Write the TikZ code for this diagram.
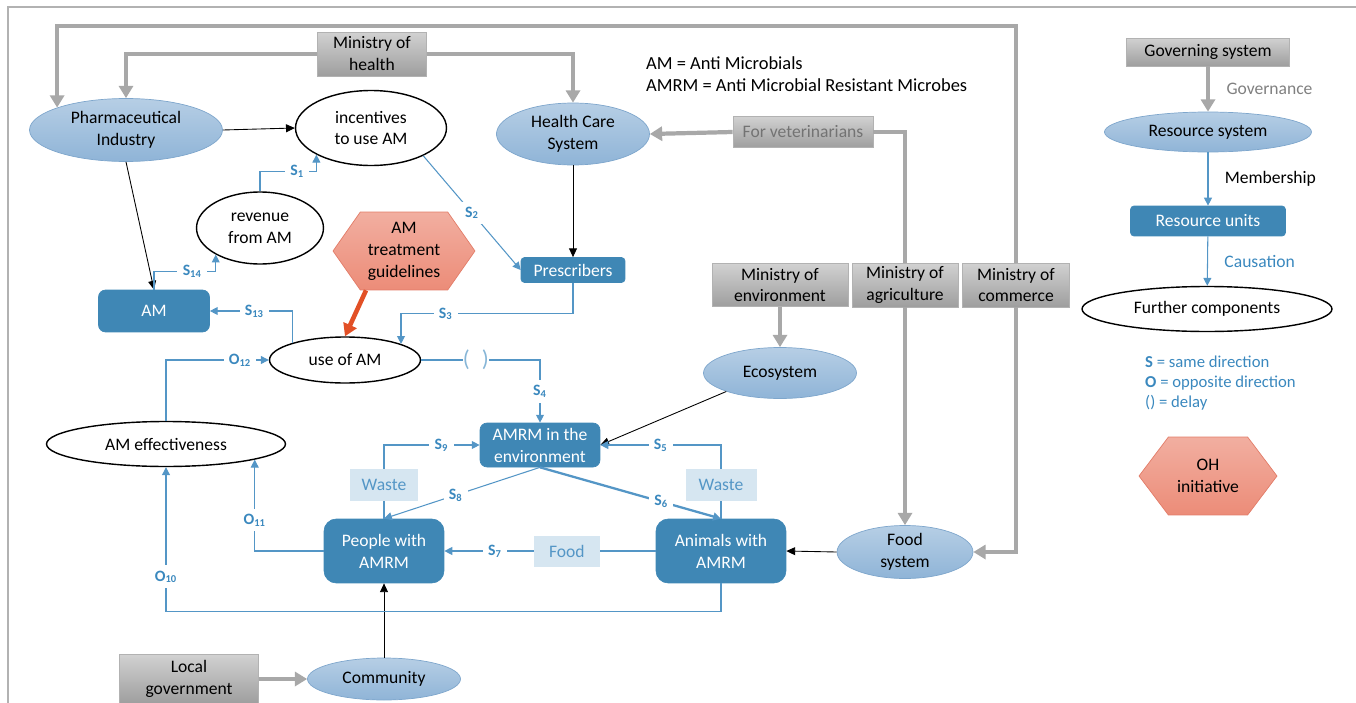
\documentclass[tikz,border=0pt]{standalone}
\usepackage{fontspec}
\setmainfont{Carlito}
\usetikzlibrary{arrows.meta,shapes.geometric,shapes.symbols}

\definecolor{boxblue}{RGB}{63,135,181}
\definecolor{ellblue}{RGB}{143,180,215}
\definecolor{ellline}{RGB}{126,166,204}
\definecolor{fbblue}{RGB}{84,150,198}
\definecolor{lblblue}{RGB}{58,136,190}
\definecolor{paleblue}{RGB}{214,230,241}
\definecolor{hexfill}{RGB}{236,140,120}
\definecolor{hexline}{RGB}{226,124,104}
\definecolor{guidered}{RGB}{226,80,38}
\definecolor{govgray}{RGB}{168,168,168}

\begin{document}
\begin{tikzpicture}[x=0.02cm,y=-0.02cm,font=\fontsize{10}{12.5}\selectfont,
  ell/.style={ellipse,draw=ellline,top color=ellblue!65,bottom color=ellblue,inner sep=0pt,align=center},
  oval/.style={ellipse,draw=black,thick,fill=white,inner sep=0pt,align=center},
  unit/.style={rectangle,rounded corners=4pt,fill=boxblue,draw=boxblue,text=white,inner sep=0pt,align=center},
  gov/.style={rectangle,draw=black!30,top color=black!18,bottom color=black!38,inner sep=0pt,align=center},
  hexa/.style={signal,signal to=east and west,signal pointer angle=110,draw=hexline,top color=hexfill!70,bottom color=hexfill,inner sep=0pt,align=center},
  flow/.style={rectangle,fill=paleblue,text=fbblue,inner sep=0pt},
  govline/.style={govgray,line width=2.4pt,-{Triangle[length=7pt,width=8pt]}},
  fb/.style={fbblue,line width=0.6pt,-{Triangle[length=4.5pt,width=4.5pt]}},
  cause/.style={black,line width=0.5pt,-{Triangle[length=5pt,width=4.5pt]}},
  lbl/.style={fill=white,text=lblblue,font=\fontsize{9}{10}\selectfont\bfseries,inner sep=3pt},
  delay/.style={fill=white,text=fbblue!70,inner sep=0pt,font=\fontsize{13}{13}\selectfont}]
  \useasboundingbox (0,0) rectangle (1356,703);
  % frame
  \draw[black!30,line width=0.8pt] (8,703) -- (8,7) -- (1356,7);

  % ministries
  \node[gov,minimum width=2.18cm,minimum height=0.88cm] (mhealth) at (372,54) {Ministry of\\health};
  \node[gov,minimum width=2.8cm,minimum height=0.62cm,text=black!55] (mvet) at (803,132) {For veterinarians};
  \node[gov,minimum width=2.72cm,minimum height=0.86cm] (menv) at (780,285) {Ministry of\\environment};
  \node[gov,minimum width=2.12cm,minimum height=0.88cm] (magri) at (905,285) {Ministry of\\agriculture};
  \node[gov,minimum width=2.14cm,minimum height=0.88cm] (mcom) at (1016,285) {Ministry of\\commerce};
  \node[gov,minimum width=2.78cm,minimum height=0.98cm] (lgov) at (189,679) {Local\\government};

  % resource systems
  \node[ell,minimum width=3.86cm,minimum height=1.26cm] (pharma) at (126,130) {Pharmaceutical\\Industry};
  \node[ell,minimum width=3.06cm,minimum height=1.24cm] (hcs) at (573,134) {Health Care\\System};
  \node[ell,minimum width=3.06cm,minimum height=1.02cm] (eco) at (780,373) {Ecosystem};
  \node[ell,minimum width=2.72cm,minimum height=1.06cm] (food) at (905,552) {Food\\system};
  \node[ell,minimum width=3.06cm,minimum height=0.84cm] (comm) at (384,679) {Community};

  % further components
  \node[oval,minimum width=3.02cm,minimum height=1.5cm] (incent) at (371,128) {incentives\\to use AM};
  \node[oval,minimum width=2.54cm,minimum height=1.44cm] (rev) at (260,228) {revenue\\from AM};
  \node[oval,minimum width=3.02cm,minimum height=0.92cm] (use) at (345,360) {use of AM};
  \node[oval,minimum width=4.78cm,minimum height=0.9cm] (eff) at (166,444) {AM effectiveness};

  % resource units
  \node[unit,minimum width=2.22cm,minimum height=0.84cm] (am) at (154,311) {AM};
  \node[unit,minimum width=2.08cm,minimum height=0.5cm,rounded corners=2pt] (presc) at (573,270) {Prescribers};
  \node[unit,minimum width=2.4cm,minimum height=0.88cm] (amrm) at (540,445) {AMRM in the\\environment};
  \node[unit,minimum width=2.4cm,minimum height=1.28cm,rounded corners=7pt] (ppl) at (384,551) {People with\\AMRM};
  \node[unit,minimum width=2.6cm,minimum height=1.28cm,rounded corners=7pt] (anim) at (721,551) {Animals with\\AMRM};

  % OH initiative
  \node[hexa,minimum width=2.84cm,minimum height=1.56cm] (guide) at (404,251) {AM\\treatment\\guidelines};

  % abbreviations
  \node[anchor=west,align=left,font=\fontsize{10.5}{12.5}\selectfont] (abbr) at (640,74) {AM = Anti Microbials\\AMRM = Anti Microbial Resistant Microbes};

  % governance
  \draw[govline] (mcom.north) -- ++(0,-237) -| (pharma.162);
  \draw[govline] (mcom.south) |- (food.east);
  \draw[govline] (mhealth.west) -| (pharma.north);
  \draw[govline] (mhealth.east) -| (hcs.north);
  \draw[govline,-] (magri.north) |- (mvet.east);
  \draw[govline] (mvet.west) -- (hcs.east);
  \draw[govline] (magri.south) -- (food.north);
  \draw[govline] (menv.south) -- (eco.north);
  \draw[govline] (lgov.east) -- (comm.west);

  % membership
  \draw[cause] (pharma.east) -- (incent.west);
  \draw[cause] (pharma.south) -- (am.north);
  \draw[cause] (hcs.south) -- (presc.north);
  \draw[cause] (eco.199) -- (amrm.east);
  \draw[cause] (food.west) -- (anim.east);
  \draw[cause] (comm.north) -- (ppl.south);
  \draw[guidered,line width=2.6pt,-{Triangle[length=7pt,width=8pt]}] (guide.226) -- (use.north);

  % causation
  \draw[fb] (rev.north) -- ++(0,-20) -| node[lbl,pos=0.33] {S\textsubscript{1}} (incent.206);
  \draw[fb] (incent.-28) -- node[lbl] {S\textsubscript{2}} (presc.west);
  \draw[fb] (presc.south) -- ++(0,31) -| node[lbl,pos=0.37] {S\textsubscript{3}} (use.16);
  \draw[fb] (use.east) -| node[delay,pos=0.23] {(\hspace{7pt})} node[lbl,pos=0.75] {S\textsubscript{4}} (amrm.north);
  \draw[fb] (anim.north) |- node[flow,pos=0.23,minimum width=1.42cm,minimum height=0.64cm] (wasteR) {Waste}
    node[lbl,pos=0.75] {S\textsubscript{5}} (amrm.east);
  \draw[fb,line width=1.3pt] (amrm.south) -- node[lbl,pos=0.67] {S\textsubscript{6}} (anim.north);
  \draw[fb] (anim.west) -- node[flow,pos=0.42,minimum width=1.32cm,minimum height=0.62cm] (foodlbl) {Food}
    node[lbl,pos=0.76] {S\textsubscript{7}} (ppl.east);
  \draw[fb] (amrm.south) -- node[lbl,pos=0.54] {S\textsubscript{8}} (ppl.north);
  \draw[fb] (ppl.north) |- node[flow,pos=0.23,minimum width=1.36cm,minimum height=0.64cm] (wasteL) {Waste}
    node[lbl,pos=0.8] {S\textsubscript{9}} (amrm.west);
  \draw[fb] (anim.south) -- ++(0,28) -| node[lbl,pos=0.62] {O\textsubscript{10}} (eff.south);
  \draw[fb] (ppl.west) -| node[lbl,pos=0.67] {O\textsubscript{11}} (eff.-10);
  \draw[fb] (eff.north) |- node[lbl,pos=0.86] {O\textsubscript{12}} (use.west);
  \draw[fb] (use.162) |- node[lbl,pos=0.73] {S\textsubscript{13}} (am.east);
  \draw[fb] (am.north) -- ++(0,-18) -| node[lbl,pos=0.31] {S\textsubscript{14}} (rev.211);

  % legend
  \node[gov,minimum width=3.26cm,minimum height=0.56cm] (govsys) at (1208,52) {Governing system};
  \node[ell,minimum width=4.14cm,minimum height=0.8cm] (ressys) at (1208,132) {Resource system};
  \node[unit,minimum width=3.1cm,minimum height=0.6cm,rounded corners=2pt] (resunits) at (1208,221) {Resource units};
  \node[oval,minimum width=5cm,minimum height=0.9cm] (further) at (1207,309) {Further components};
  \draw[govline] (govsys) -- (ressys) node[midway,right=6pt,text=black!50] {Governance};
  \draw[fb] (ressys) -- (resunits) node[midway,right=6pt,text=black] {Membership};
  \draw[fb] (resunits) -- (further) node[midway,right=6pt,text=lblblue] {Causation};
  \node[anchor=north west,align=left,text=lblblue,font=\fontsize{9.5}{11.3}\selectfont] (key) at (1139,350)
    {\textbf{S} = same direction\\\textbf{O} = opposite direction\\() = delay};
  \node[hexa,minimum width=2.76cm,minimum height=1.56cm,signal pointer angle=106] (ohi) at (1208,476) {OH\\initiative};
\end{tikzpicture}
\end{document}
